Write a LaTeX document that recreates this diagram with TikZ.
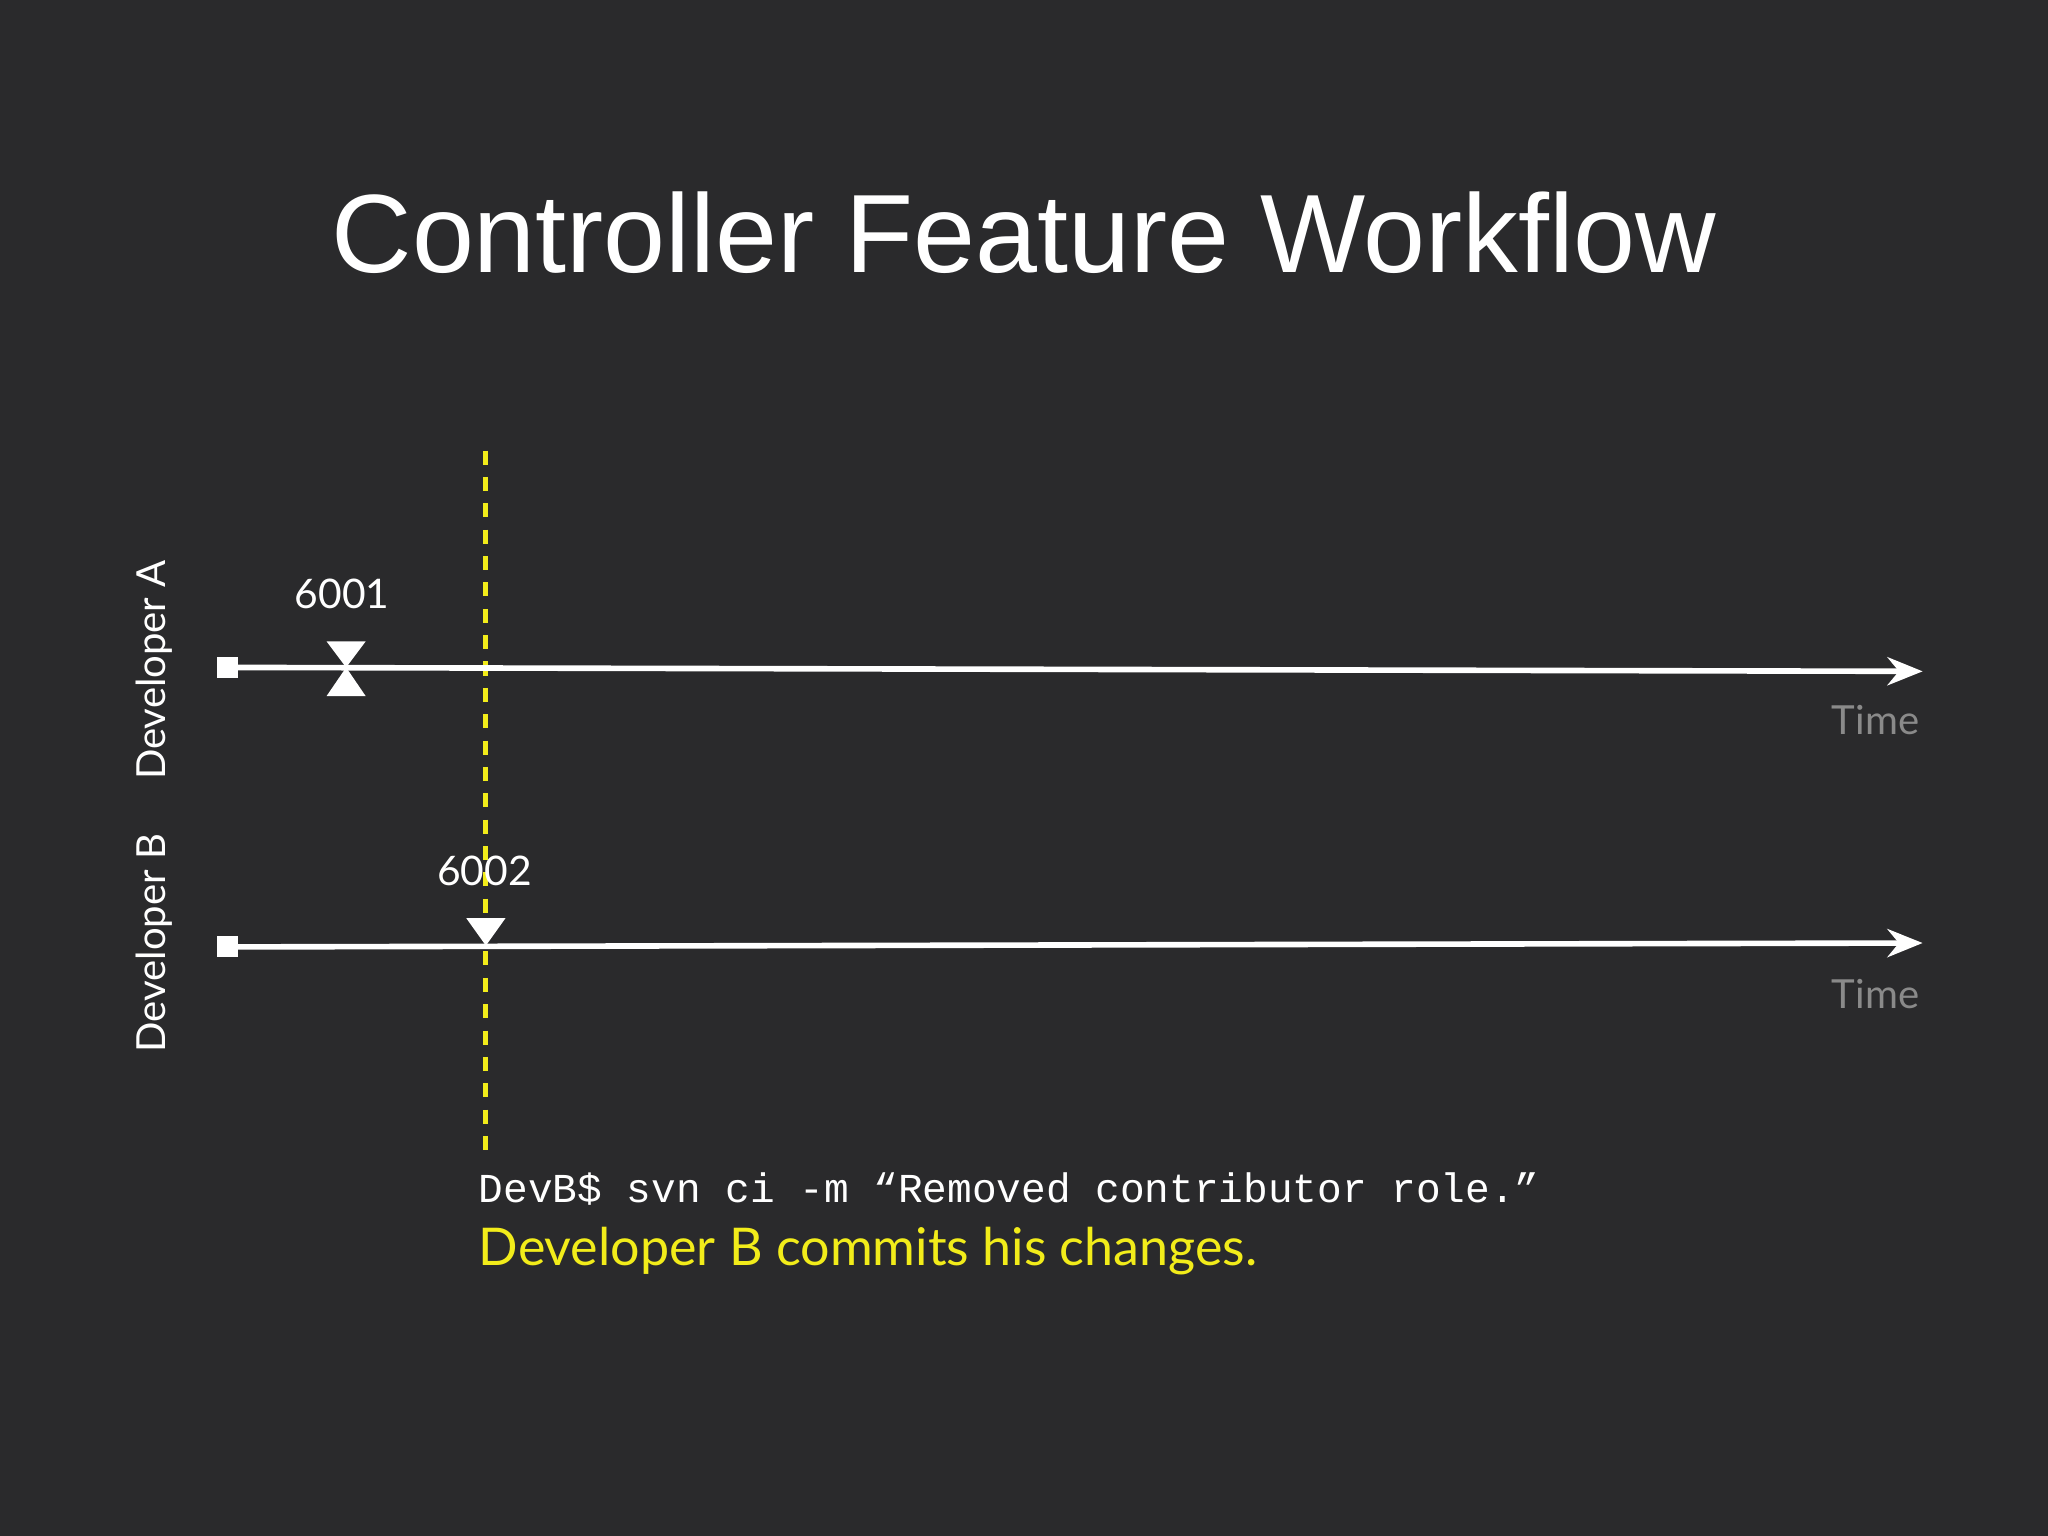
\documentclass[tikz,border=0pt]{standalone}
\usepackage{fontspec}
\setmainfont{Lato}
\newfontfamily\titlefont{Liberation Sans}
\newfontfamily\monofont{Liberation Mono}
\usetikzlibrary{arrows.meta}
\definecolor{bg}{HTML}{2A2A2C}
\definecolor{ylw}{HTML}{F2EC1A}
\definecolor{tgray}{HTML}{8A8A8A}
\tikzset{
  tl/.style={white, line width=1.6pt, -{Stealth[length=10pt,width=8pt]}},
  sq/.style={fill=white, draw=none, minimum size=0.21cm, inner sep=0pt},
  lbl/.style={white, font=\fontsize{11.6}{14}\selectfont},
  timelbl/.style={tgray, font=\fontsize{11.4}{14}\selectfont},
  dev/.style={white, rotate=90, font=\fontsize{11.4}{14}\selectfont},
}
\begin{document}
\begin{tikzpicture}[x=0.01306cm,y=-0.01306cm]
\fill[bg] (0,0) rectangle (1568,1176);
\useasboundingbox (0,0) rectangle (1568,1176);
\node[white, font=\titlefont\fontsize{31.7}{36}\selectfont] (title) at (784,178) {Controller Feature Workflow};
% dashed line
\coordinate (dt) at (372,345);
\coordinate (db) at (372,882);
\draw[ylw, line width=1.4pt, dash pattern=on 4pt off 3.5pt] (dt) -- (db);
% line A
\node[sq] (sa) at (174,511) {};
\coordinate (ea) at (1472,514);
\draw[tl] (sa.center) -- (ea);
\fill[white] (250,491) -- (280,491) -- (265,511) -- cycle;
\fill[white] (250,533) -- (280,533) -- (265,511) -- cycle;
\node[lbl] (n1) at (262,455) {6001};
\node[timelbl] (t1) at (1436,551) {Time};
% line B
\node[sq] (sb) at (174,725) {};
\coordinate (eb) at (1472,722);
\draw[tl] (sb.center) -- (eb);
\fill[white] (357,703) -- (387,703) -- (372,724) -- cycle;
\node[lbl] (n2) at (371,667) {6002};
\node[timelbl] (t2) at (1436,761) {Time};
% developer labels
\node[dev] (da) at (118,513) {Developer A};
\node[dev] (dbl) at (118,722) {Developer B};
% captions
\node[white, anchor=west, inner sep=0pt, font=\monofont\fontsize{11.7}{14}\selectfont] (cmd) at (366,910) {DevB\$ svn ci -m “Removed contributor role.”};
\node[ylw, anchor=west, inner sep=0pt, font=\fontsize{14.8}{18}\selectfont] (cap) at (366,958) {Developer B commits his changes.};
\end{tikzpicture}
\end{document}
